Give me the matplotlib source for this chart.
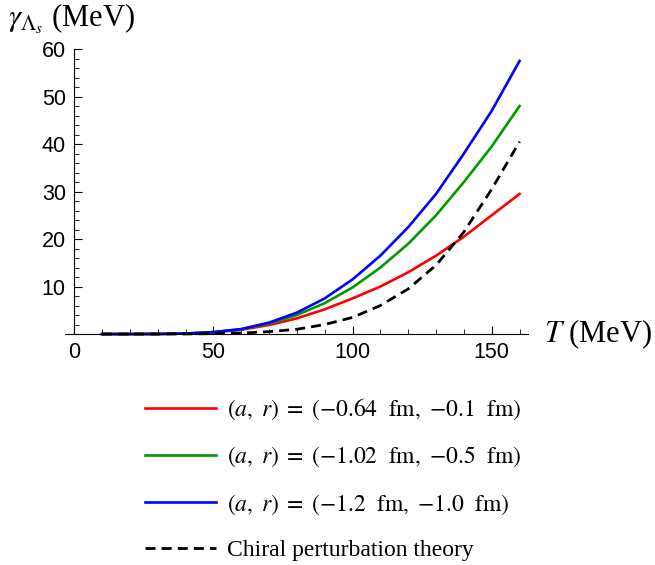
import matplotlib.pyplot as plt
from matplotlib.ticker import MultipleLocator
from matplotlib.lines import Line2D

plt.rcParams['mathtext.fontset'] = 'stix'

# temperature grid (MeV)
T = [10, 20, 30, 40, 50, 60, 70, 80, 90, 100, 110, 120, 130, 140, 150, 160]

# decay widths (MeV)
gamma_red = [0, 0, 0.02, 0.1, 0.35, 0.9, 1.9, 3.3, 5.2, 7.5, 10.0, 13.0, 16.5, 20.5, 25.0, 29.5]
gamma_green = [0, 0, 0.02, 0.1, 0.4, 1.0, 2.2, 4.0, 6.5, 9.8, 14.0, 19.0, 25.0, 32.0, 39.5, 48.0]
gamma_blue = [0, 0, 0.02, 0.1, 0.4, 1.05, 2.4, 4.5, 7.5, 11.5, 16.5, 22.5, 29.5, 38.0, 47.0, 57.5]
gamma_chpt = [0, 0, 0, 0.02, 0.08, 0.2, 0.5, 1.0, 2.0, 3.5, 6.0, 9.5, 14.5, 21.5, 30.5, 40.5]

labels = [
    r"$(a,\ r)\;=\;(-0.64\ \ \mathrm{fm},\ {-}0.1\ \ \mathrm{fm})$",
    r"$(a,\ r)\;=\;(-1.02\ \ \mathrm{fm},\ {-}0.5\ \ \mathrm{fm})$",
    r"$(a,\ r)\;=\;(-1.2\ \ \mathrm{fm},\ {-}1.0\ \ \mathrm{fm})$",
    "Chiral perturbation theory",
]

colors = ['#ff0000', '#009a00', '#0000ff']
dash = (0, (3.6, 2.2))

fig = plt.figure(figsize=(6.55, 5.65), dpi=100)
ax = fig.add_axes([0.0992, 0.4088, 0.7068, 0.5044])

ax.plot(T, gamma_red, color=colors[0], lw=1.9, clip_on=False)
ax.plot(T, gamma_green, color=colors[1], lw=1.9, clip_on=False)
ax.plot(T, gamma_blue, color=colors[2], lw=1.9, clip_on=False)
ax.plot(T, gamma_chpt, color='black', lw=2.0, ls=dash, clip_on=False)

ax.set_xlim(-3.3, 163)
ax.set_ylim(0, 60)

# Mathematica-style axes crossing at the origin
ax.spines['left'].set_position(('data', 0))
ax.spines['right'].set_visible(False)
ax.spines['top'].set_visible(False)
for s in ('left', 'bottom'):
    ax.spines[s].set_linewidth(0.8)

ax.set_xticks([0, 50, 100, 150])
ax.set_yticks([10, 20, 30, 40, 50, 60])
ax.xaxis.set_minor_locator(MultipleLocator(10))
ax.yaxis.set_minor_locator(MultipleLocator(2))
ax.tick_params(which='major', direction='in', length=6, width=0.8,
               labelsize=15.5, pad=6)
ax.tick_params(which='minor', direction='in', length=3.5, width=0.6)
for lab in ax.get_xticklabels() + ax.get_yticklabels():
    lab.set_fontfamily('Liberation Sans')

fig.text(0.012, 0.953, r"$\gamma_{\Lambda_s}$ (MeV)", fontsize=22,
         family='Liberation Serif', va='baseline')
fig.text(0.830, 0.408, r"$T$ (MeV)", fontsize=22,
         family='Liberation Serif', va='center')

handles = [Line2D([], [], color=c, lw=1.9) for c in colors]
handles.append(Line2D([], [], color='black', lw=2.0, ls=dash))
fig.legend(handles, labels, loc='upper left', bbox_to_anchor=(0.222, 0.298),
           frameon=False, borderpad=0, borderaxespad=0, handlelength=3.0,
           handletextpad=0.45, labelspacing=0.97,
           prop={'family': 'Liberation Serif', 'size': 17})

fig.savefig('out.png', dpi=100)
